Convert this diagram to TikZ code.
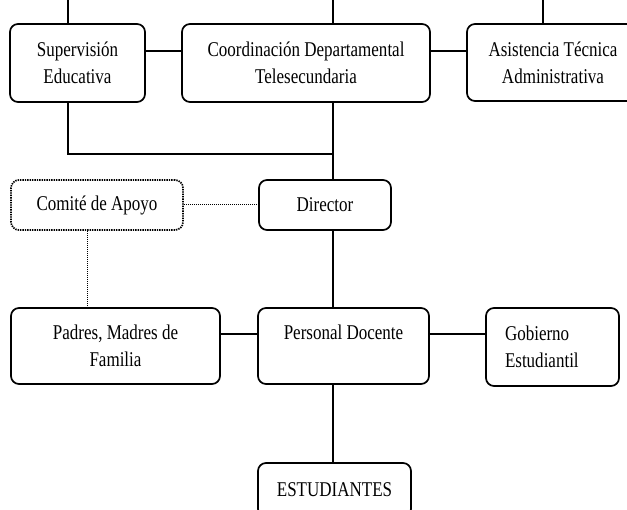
\documentclass[tikz,border=0pt]{standalone}
\usepackage{fontspec}
\setmainfont{Liberation Serif}[FakeStretch=0.81]
\begin{document}
\begin{tikzpicture}[x=1pt,y=1pt,
  box/.style={draw, line width=1.7pt, rounded corners=8pt, inner sep=0pt,
    font=\fontsize{21}{27}\selectfont, align=center},
  dotbox/.style={box, dash pattern=on 1.4pt off 1pt},
  link/.style={line width=1.1pt},
  dotlink/.style={line width=1pt, dash pattern=on 1pt off 1pt}]
\useasboundingbox (0,0) rectangle (627,-510);
\clip (0,0) rectangle (627,-510);
\node[box, minimum width=135pt, minimum height=78pt] (sup) at (77.5,-63) {Supervisión\\Educativa};
\node[box, minimum width=248pt, minimum height=78pt] (coord) at (306,-63) {Coordinación Departamental\\Telesecundaria};
\node[box, minimum width=172pt, minimum height=77pt] (asis) at (553,-62.5) {Asistencia Técnica\\Administrativa};
\node[dotbox, minimum width=172pt, minimum height=50pt] (com) at (97,-205) {Comité de Apoyo};
\node[box, minimum width=132pt, minimum height=50pt] (dir) at (325,-205) {Director};
\node[box, minimum width=209pt, minimum height=76pt] (pad) at (115.5,-346) {Padres, Madres de\\Familia};
\node[box, minimum width=171pt, minimum height=76pt] (per) at (343.5,-346) {Personal Docente\\\mbox{}};
\node[box, align=left, text width=95pt, inner xsep=19pt, minimum height=78pt] (gob) at (552.5,-347) {Gobierno\\Estudiantil};
\node[box, minimum width=153pt, minimum height=54pt] (est) at (334.5,-490) {ESTUDIANTES};
\coordinate (t1) at (68,0);
\coordinate (t2) at (333,0);
\coordinate (t3) at (543,0);
\coordinate (c1) at (87,0);
\coordinate (j) at (333,-154);
\draw[link] (t1) -- (t1 |- sup.north);
\draw[link] (t2) -- (t2 |- coord.north);
\draw[link] (t3) -- (t3 |- asis.north);
\draw[link] ([yshift=12pt]sup.east) -- ([yshift=12pt]sup.east -| coord.west);
\draw[link] ([yshift=12pt]coord.east) -- ([yshift=12pt]coord.east -| asis.west);
\draw[link] (t1 |- sup.south) |- (j);
\draw[link] (t2 |- coord.south) -- (t2 |- dir.north);
\draw[dotlink] (com.east) -- (dir.west);
\draw[dotlink] (c1 |- com.south) -- (c1 |- pad.north);
\draw[link] (t2 |- dir.south) -- (t2 |- per.north);
\draw[link] ([yshift=12pt]pad.east) -- ([yshift=12pt]pad.east -| per.west);
\draw[link] ([yshift=12pt]per.east) -- ([yshift=12pt]per.east -| gob.west);
\draw[link] (t2 |- per.south) -- (t2 |- est.north);
\end{tikzpicture}
\end{document}
